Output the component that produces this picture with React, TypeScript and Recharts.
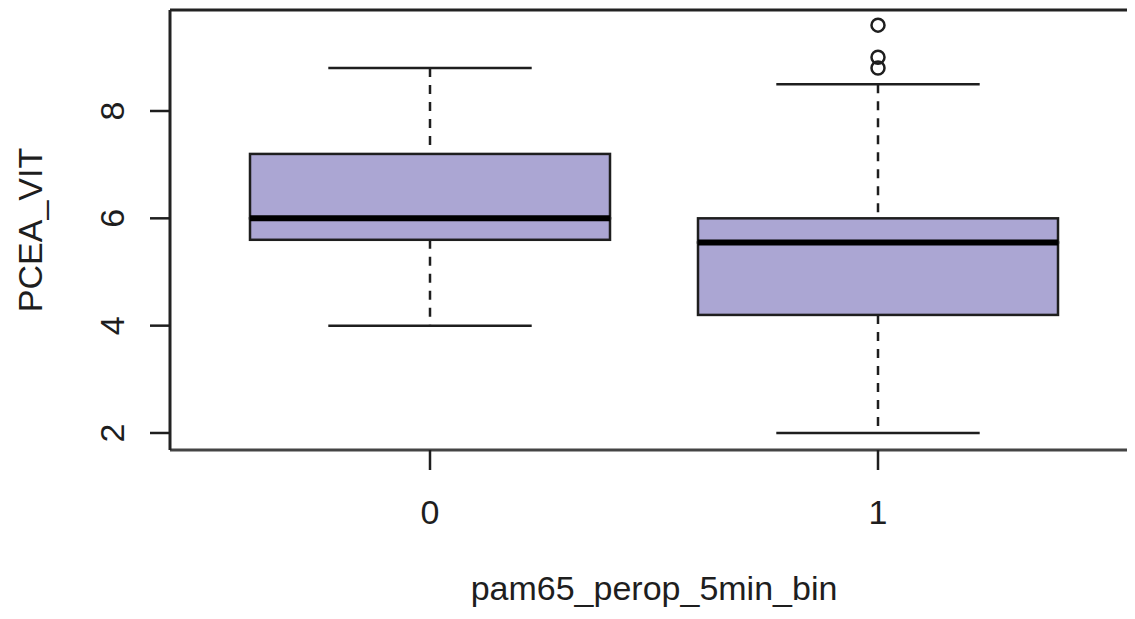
import { ComposedChart, Bar, Line, XAxis, YAxis } from "recharts";

// five-number summaries, one entry per group
const categories = ["0", "1"];
const whiskerLow = [4.0, 2.0];
const quartile1 = [5.6, 4.2];
const medians = [6.0, 5.55];
const quartile3 = [7.2, 6.0];
const whiskerHigh = [8.8, 8.5];
const outliers: number[][] = [[], [9.6, 9.0, 8.8]];
const yTicks = [2, 4, 6, 8];

const FONT = "'Liberation Sans', Arial, Helvetica, sans-serif";
const INK = "#1e1e1e";
const BOX_FILL = "#aba6d3";
const FS = 34;

const rows = categories.map((cat, i) => ({
  cat,
  base: whiskerLow[i],
  lowWhisker: quartile1[i] - whiskerLow[i],
  lowBox: medians[i] - quartile1[i],
  highBox: quartile3[i] - medians[i],
  highWhisker: whiskerHigh[i] - quartile3[i],
  out0: outliers[i][0] ?? null,
  out1: outliers[i][1] ?? null,
  out2: outliers[i][2] ?? null,
}));

const outlierKeys = ["out0", "out1", "out2"];

const whisker = (atTop: boolean) => (props: any) => {
  const { x, y, width, height } = props;
  const cx = x + width / 2;
  const cap = width * 0.565;
  const capY = atTop ? y : y + height;
  return (
    <g>
      <line x1={cx} x2={cx} y1={y} y2={y + height} stroke={INK} strokeWidth={2.5} strokeDasharray="9 8" />
      <line x1={cx - cap / 2} x2={cx + cap / 2} y1={capY} y2={capY} stroke={INK} strokeWidth={2.5} />
    </g>
  );
};

const lowerBox = (props: any) => {
  const { x, y, width, height } = props;
  return <rect x={x} y={y} width={width} height={height} fill={BOX_FILL} stroke={INK} strokeWidth={2.5} />;
};

// upper half draws the median on its bottom edge so the fill doesn't cover it
const upperBox = (props: any) => {
  const { x, y, width, height } = props;
  return (
    <g>
      <rect x={x} y={y} width={width} height={height} fill={BOX_FILL} stroke={INK} strokeWidth={2.5} />
      <line x1={x} x2={x + width} y1={y + height} y2={y + height} stroke="#000" strokeWidth={6} />
    </g>
  );
};

const YTick = (props: any) => {
  const { x, y, payload } = props;
  const bx = x - 24;
  return (
    <text x={bx} y={y} transform={`rotate(-90, ${bx}, ${y})`} textAnchor="middle" fontFamily={FONT} fontSize={FS} fill={INK}>
      {payload.value}
    </text>
  );
};

const XTick = (props: any) => {
  const { x, y, payload } = props;
  return (
    <text x={x} y={y + 52} textAnchor="middle" fontFamily={FONT} fontSize={FS} fill={INK}>
      {payload.value}
    </text>
  );
};

const XTitle = (props: any) => {
  const { x, y, width } = props.viewBox;
  return (
    <text x={x + width / 2} y={y + 150} textAnchor="middle" fontFamily={FONT} fontSize={FS} fill={INK}>
      pam65_perop_5min_bin
    </text>
  );
};

const YTitle = (props: any) => {
  const { x, y, height } = props.viewBox;
  const bx = x + 34;
  const cy = y + height / 2;
  return (
    <text x={bx} y={cy} transform={`rotate(-90, ${bx}, ${cy})`} textAnchor="middle" fontFamily={FONT} fontSize={FS} fill={INK}>
      PCEA_VIT
    </text>
  );
};

export default function App() {
  return (
    <div style={{ width: 1127, height: 611, overflow: "hidden", background: "#fff" }}>
      <ComposedChart
        width={1140}
        height={611}
        data={rows}
        margin={{ top: 1, right: 10, left: 0, bottom: 0 }}
      >
        <XAxis
          dataKey="cat"
          padding={{ left: 36, right: 36 }}
          height={169}
          tickSize={20}
          tickLine={{ stroke: INK, strokeWidth: 2.5 }}
          axisLine={{ stroke: "#444", strokeWidth: 3 }}
          tick={<XTick />}
          label={<XTitle />}
        />
        {/* top edge of the frame */}
        <XAxis
          xAxisId="top"
          orientation="top"
          dataKey="cat"
          padding={{ left: 36, right: 36 }}
          height={1}
          tick={false}
          tickLine={false}
          axisLine={{ stroke: "#222", strokeWidth: 3 }}
        />
        <YAxis
          type="number"
          domain={[1.683, 9.882]}
          allowDataOverflow
          ticks={yTicks}
          interval={0}
          width={162}
          tickSize={20}
          tickLine={{ stroke: INK, strokeWidth: 2.5 }}
          axisLine={{ stroke: "#222", strokeWidth: 3 }}
          tick={<YTick />}
          label={<YTitle />}
        />
        <Bar dataKey="base" stackId="box" barSize={360} fill="none" isAnimationActive={false} />
        <Bar dataKey="lowWhisker" stackId="box" barSize={360} shape={whisker(false)} isAnimationActive={false} />
        <Bar dataKey="lowBox" stackId="box" barSize={360} shape={lowerBox} isAnimationActive={false} />
        <Bar dataKey="highBox" stackId="box" barSize={360} shape={upperBox} isAnimationActive={false} />
        <Bar dataKey="highWhisker" stackId="box" barSize={360} shape={whisker(true)} isAnimationActive={false} />
        {outlierKeys.map((k) => (
          <Line
            key={k}
            xAxisId="top"
            dataKey={k}
            stroke="none"
            dot={{ r: 6.5, fill: "none", stroke: INK, strokeWidth: 2.5 }}
            activeDot={false}
            isAnimationActive={false}
          />
        ))}
      </ComposedChart>
    </div>
  );
}
